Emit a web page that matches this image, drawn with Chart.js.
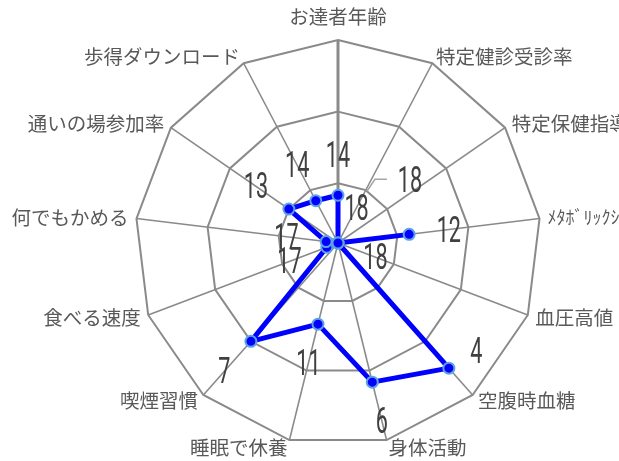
<!DOCTYPE html>
<html>
<head>
<meta charset="utf-8">
<script src="https://cdn.jsdelivr.net/npm/chart.js@4/dist/chart.umd.min.js"></script>
<style>
  html, body { margin: 0; padding: 0; background: #fff; overflow: hidden; }
  #wrap { width: 619px; height: 461px; position: relative; }
</style>
</head>
<body>
<div id="wrap"><canvas id="radar"></canvas></div>
<script>
// categories (clockwise from the top)
var categories = ['お達者年齢', '特定健診受診率', '特定保健指導率', 'ﾒﾀﾎﾞﾘｯｸｼﾝﾄﾞﾛｰﾑ', '血圧高値', '空腹時血糖',
  '身体活動', '睡眠で休養', '喫煙習慣', '食べる速度', '何でもかめる', '通いの場参加率', '歩得ダウンロード'];
// rank per category (1 = best, drawn on the outside)
var ranks = [14, 18, 18, 12, 18, 4, 6, 11, 7, 17, 17, 13, 14];
// rings of the reversed rank axis
var rankTicks = [18, 13, 7, 1];
var rankMin = 1;
var rankMax = 18;

// labels that were moved by hand in the original
var labelNudge = { 2: [39, -40], 5: [1, -47] };
var labelGap = 40;

var gridGrey = '#8a8a8a';

// axis names drawn outside the last ring (chart.js would shrink the radar to fit them)
var axisNames = {
  id: 'axisNames',
  afterDraw: function(chart) {
    var sc = chart.scales.r;
    var ctx = chart.ctx;
    var outer = sc.getDistanceFromCenterForValue(rankMin);
    ctx.save();
    ctx.fillStyle = '#595959';
    categories.forEach(function(name, i) {
      ctx.font = (name.charAt(0) == 'ﾒ' ? '18px' : '19.5px') + ' "Noto Sans CJK JP"';
      var p = sc.getPointPosition(i, outer + (i == 0 ? 14 : 8));
      if (Math.abs(p.x - sc.xCenter) < 2) ctx.textAlign = 'center';
      else if (p.x > sc.xCenter) ctx.textAlign = 'left';
      else ctx.textAlign = 'right';
      ctx.textBaseline = i == 0 ? 'bottom' : 'middle';
      ctx.fillText(name, p.x, p.y);
    });
    ctx.restore();
  }
};

// value labels: narrow, tall digits, pushed out along each spoke
var rankLabels = {
  id: 'rankLabels',
  afterDatasetsDraw: function(chart) {
    var sc = chart.scales.r;
    var ctx = chart.ctx;
    ctx.save();
    ranks.forEach(function(v, i) {
      var p = sc.getPointPosition(i, sc.getDistanceFromCenterForValue(v) + labelGap);
      var n = labelNudge[i] || [0, 0];
      var x = p.x + n[0], y = p.y + n[1];
      if (i == 2) {
        // leader line back toward the point
        ctx.strokeStyle = '#a6a6a6';
        ctx.lineWidth = 1.5;
        ctx.beginPath();
        ctx.moveTo(x - 23, y - 1);
        ctx.lineTo(x - 35, y - 1);
        ctx.lineTo(x - 43, y + 11);
        ctx.stroke();
      }
      ctx.fillStyle = '#404040';
      ctx.font = '36px Roboto';
      ctx.textAlign = 'center';
      ctx.textBaseline = 'middle';
      ctx.translate(x, y);
      ctx.scale(0.6, 1);
      ctx.fillText(String(v), 0, 3);
      ctx.setTransform(1, 0, 0, 1, 0, 0);
    });
    ctx.restore();
  }
};

var radar = new Chart(document.getElementById('radar'), {
  type: 'radar',
  data: {
    labels: categories,
    datasets: [{
      label: '順位',
      data: ranks,
      borderColor: '#0000ff',
      borderWidth: 5,
      borderJoinStyle: 'round',
      fill: false,
      pointBackgroundColor: '#0000ff',
      pointBorderColor: '#5ba3e6',
      pointBorderWidth: 2,
      pointRadius: 5.5,
      tension: 0
    }]
  },
  options: {
    responsive: true,
    maintainAspectRatio: false,
    animation: false,
    layout: { padding: { left: 135, right: 78, top: 40, bottom: 14 } },
    plugins: {
      legend: { display: false },
      tooltip: { enabled: false }
    },
    scales: {
      r: {
        reverse: true,
        min: rankMin,
        max: rankMax,
        afterBuildTicks: function(scale) {
          scale.ticks = rankTicks.map(function(t) { return { value: t }; });
        },
        ticks: { display: false },
        pointLabels: { display: false },
        grid: { color: gridGrey, lineWidth: 2 },
        angleLines: {
          color: gridGrey,
          lineWidth: function(ctx) { return ctx.index == 0 ? 3 : 1.6; }
        }
      }
    }
  },
  plugins: [axisNames, rankLabels]
});
</script>
</body>
</html>
